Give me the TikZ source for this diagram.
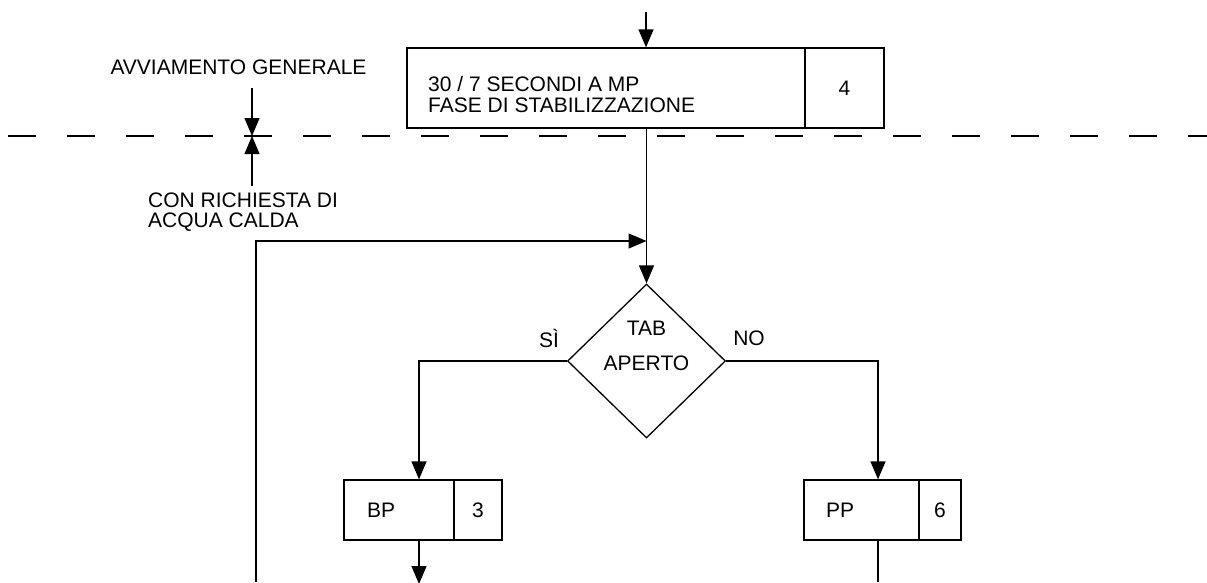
\documentclass[tikz,border=0pt]{standalone}
\usepackage{fontspec}
\setmainfont{Liberation Sans}
\usetikzlibrary{shapes.geometric,arrows.meta,calc}
\begin{document}
\begin{tikzpicture}[x=1pt,y=-1pt,
  every node/.style={font=\fontsize{21}{21}\selectfont, text=black},
  box/.style={draw, line width=1.3pt, inner sep=0pt, minimum height=60pt},
  ln/.style={line width=1.3pt},
  arr/.style={line width=1.3pt, -{Triangle[length=18pt,width=15pt]}},
  lbl/.style={inner sep=0pt}]
\useasboundingbox (0,0) rectangle (1207,582);
\fill[white] (0,0) rectangle (1207,582);

% top block
\node[box, minimum width=398pt, minimum height=80pt] (mp) at (606,88) {};
\node[lbl, align=left, anchor=west] (mptxt) at (428,94) {30 / 7 SECONDI A MP\\FASE DI STABILIZZAZIONE};
\node[box, minimum width=79pt, minimum height=80pt] (n4) at (844.5,88) {4};
\coordinate (top) at (646,12);
\draw[arr] (top) -- (top |- mp.north);

% dashed line
\coordinate (dl) at (8,136);
\coordinate (dr) at (1207,136);
\draw[ln, dash pattern=on 28pt off 31pt] (dl) -- (dr);

% side labels
\node[lbl] (avv) at (238.5,67) {AVVIAMENTO GENERALE};
\node[lbl, align=left, anchor=north west, font=\fontsize{21}{20}\selectfont] (con) at (148,193) {CON RICHIESTA DI\\ACQUA CALDA};
\coordinate (mark) at (252,136);
\coordinate (avvend) at (252,88);
\coordinate (conend) at (252,186);
\draw[arr] (avvend) -- (mark);
\draw[arr] (conend) -- (mark);

% decision
\node[draw, line width=1.3pt, shape=diamond, minimum width=158pt, minimum height=154pt, inner sep=0pt] (d) at (646.5,361) {};
\node[lbl, align=center, font=\fontsize{21}{35}\selectfont] (dtxt) at (646.5,346) {TAB\\APERTO};
\node[lbl] (si) at (549,338) {SÌ};
\node[lbl] (no) at (749,338) {NO};

% loop-back
\coordinate (loopbot) at (256,582);
\coordinate (join) at (646.5,241);
\draw[arr] (loopbot) |- (join);
\draw[arr] (d.north |- mp.south) -- (d.north);

% BP
\node[box, minimum width=110pt, text width=64pt, inner xsep=23pt, align=left] (bp) at (399,510) {BP};
\node[box, minimum width=48pt] (n3) at (478,510) {3};
\draw[arr] (d.west) -| ([xshift=20pt]bp.north);
\coordinate (bpout) at (419,584);
\draw[arr] ([xshift=20pt]bp.south) -- (bpout);

% PP
\node[box, minimum width=115pt, text width=71pt, inner xsep=22pt, align=left] (pp) at (861.5,510) {PP};
\node[box, minimum width=42pt] (n6) at (940,510) {6};
\draw[arr] (d.east) -| ([xshift=16.5pt]pp.north);
\coordinate (ppout) at (878,582);
\draw[ln] ([xshift=16.5pt]pp.south) -- (ppout);
\end{tikzpicture}
\end{document}
